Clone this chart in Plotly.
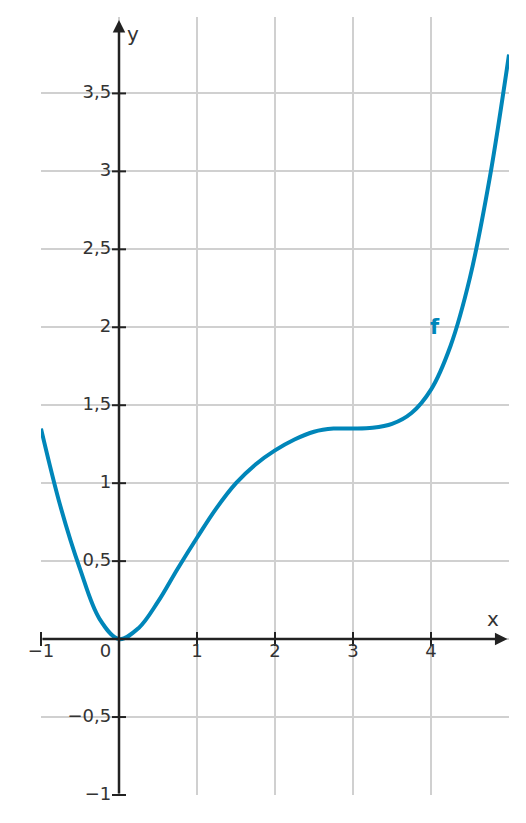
import plotly.graph_objects as go

# points
xs = [-1, -0.75, -0.5, -0.25, 0, 0.25, 0.5, 0.75, 1, 1.25, 1.5, 1.75, 2, 2.25, 2.5,
      2.75, 3, 3.25, 3.5, 3.75, 4, 4.25, 4.5, 4.75, 5]
ys = [1.35, 0.85, 0.45, 0.13, 0, 0.07, 0.24, 0.45, 0.65, 0.84, 1.0, 1.12, 1.21, 1.28, 1.33,
      1.35, 1.35, 1.355, 1.38, 1.45, 1.6, 1.88, 2.32, 2.95, 3.75]

x_ticks = [-1, 1, 2, 3, 4]
x_labels = ["−1", "1", "2", "3", "4"]
y_ticks = [-1, -0.5, 0.5, 1, 1.5, 2, 2.5, 3, 3.5]
y_labels = ["−1", "−0,5", "0,5", "1", "1,5", "2", "2,5", "3", "3,5"]

blue = "#0086b9"
dark = "#222222"
font = dict(family="DejaVu Sans", size=18, color="#333333")

fig = go.Figure()
fig.add_trace(go.Scatter(x=xs, y=ys, mode="lines", line=dict(color=blue, width=4, shape="spline", smoothing=1.0),
                         hoverinfo="skip", cliponaxis=False))
# tick marks on the axes
fig.add_trace(go.Scatter(x=x_ticks, y=[0] * len(x_ticks), mode="markers", cliponaxis=False,
                         marker=dict(symbol="line-ns", size=10, line=dict(color=dark, width=2))))
fig.add_trace(go.Scatter(x=[0] * len(y_ticks), y=y_ticks, mode="markers", cliponaxis=False,
                         marker=dict(symbol="line-ew", size=10, line=dict(color=dark, width=2))))
# tick labels
fig.add_trace(go.Scatter(x=x_ticks, y=[-0.03] * len(x_ticks), mode="text", text=x_labels, cliponaxis=False,
                         textposition="bottom center", textfont=font))
fig.add_trace(go.Scatter(x=[-0.1] * len(y_ticks), y=y_ticks, mode="text", text=y_labels, cliponaxis=False,
                         textposition="middle left", textfont=font))
fig.add_trace(go.Scatter(x=[-0.1], y=[-0.03], mode="text", text=["0"], cliponaxis=False,
                         textposition="bottom left", textfont=font))

# axes with arrows
fig.add_annotation(x=4.98, y=0, ax=-1, ay=0, xref="x", yref="y", axref="x", ayref="y",
                   showarrow=True, arrowhead=2, arrowsize=1, arrowwidth=2.5, arrowcolor=dark, text="")
fig.add_annotation(x=0, y=3.97, ax=0, ay=-1, xref="x", yref="y", axref="x", ayref="y",
                   showarrow=True, arrowhead=2, arrowsize=1, arrowwidth=2.5, arrowcolor=dark, text="")
fig.add_annotation(x=4.8, y=0.13, text="x", showarrow=False, font=dict(family="DejaVu Sans", size=20, color="#333333"))
fig.add_annotation(x=0.18, y=3.88, text="y", showarrow=False, font=dict(family="DejaVu Sans", size=20, color="#333333"))
fig.add_annotation(x=4.05, y=2.0, text="<b>f</b>", showarrow=False, font=dict(family="DejaVu Sans", size=21, color=blue))

fig.update_layout(
    width=526, height=823, showlegend=False,
    margin=dict(l=33, r=25, t=9, b=36),
    plot_bgcolor="white", paper_bgcolor="white",
    xaxis=dict(range=[-1, 5], tickvals=[-1, 0, 1, 2, 3, 4, 5], showticklabels=False,
               showgrid=True, gridcolor="#d0d0d0", gridwidth=1.5, zeroline=False, fixedrange=True),
    yaxis=dict(range=[-1, 3.99], tickvals=[-1, -0.5, 0, 0.5, 1, 1.5, 2, 2.5, 3, 3.5],
               showticklabels=False, showgrid=True, gridcolor="#d0d0d0", gridwidth=1.5,
               zeroline=False, fixedrange=True),
)

fig.write_html("out.html")
